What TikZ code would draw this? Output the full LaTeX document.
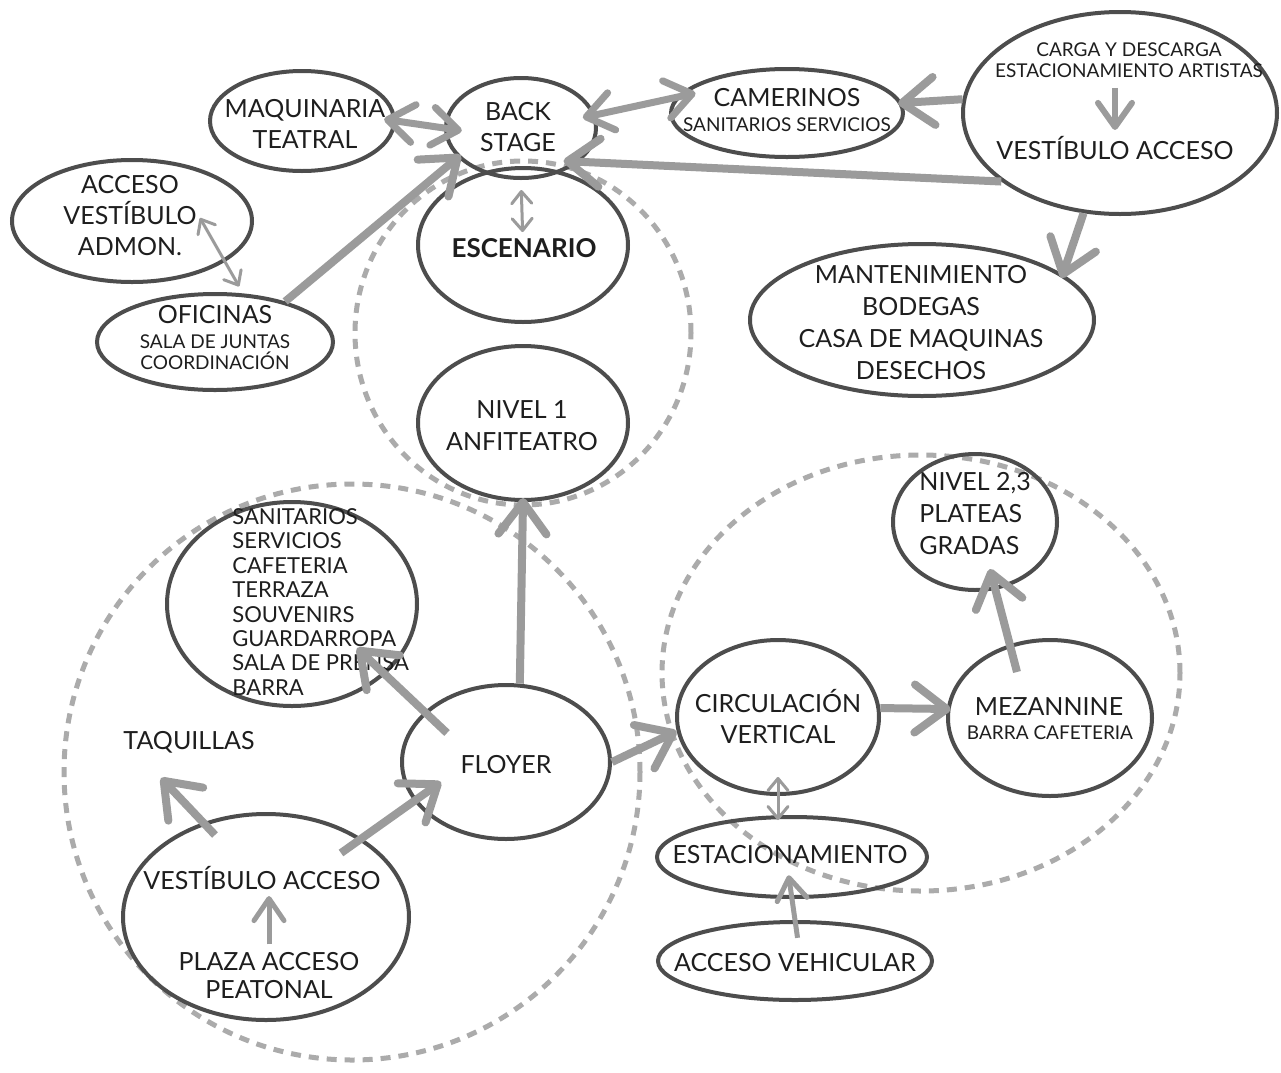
\documentclass[tikz,border=0pt]{standalone}
\usepackage{fontspec}
\setmainfont{Lato}
\usetikzlibrary{arrows.meta,shapes.geometric,calc}

\definecolor{rim}{HTML}{4D4D4D}
\definecolor{ink}{HTML}{1E1E1E}
\definecolor{flow}{HTML}{9B9B9B}
\definecolor{zonegray}{HTML}{ABABAB}

\tikzset{
  room/.style={ellipse, draw=rim, line width=2pt, inner sep=0pt},
  zonering/.style={ellipse, draw=zonegray, line width=2.5pt,
                   dash pattern=on 5pt off 4pt, inner sep=0pt},
  big/.style={text=ink, align=center, inner sep=0pt,
              font=\fontsize{12.5}{15.5}\selectfont},
  small/.style={text=ink, align=center, inner sep=0pt,
                font=\fontsize{9.5}{10.5}\selectfont},
  listing/.style={text=ink, align=left, inner sep=0pt,
                  font=\fontsize{11}{12.2}\selectfont},
  heavy/.style={draw=flow, line width=4pt,
                -{Straight Barb[round,length=16pt,width=24pt]}},
  twoway/.style={draw=flow, line width=3.5pt,
                {Straight Barb[round,length=13pt,width=19pt]}-{Straight Barb[round,length=13pt,width=19pt]}},
  slimtwo/.style={draw=flow, line width=1.5pt,
                {Straight Barb[round,length=6pt,width=10pt]}-{Straight Barb[round,length=6pt,width=10pt]}},
  inner/.style={draw=flow, line width=3pt,
                -{Straight Barb[round,length=12pt,width=17pt]}},
  lift/.style={draw=flow, line width=2.5pt,
                -{Straight Barb[round,length=11pt,width=15pt]}}
}

\begin{document}
\begin{tikzpicture}[x=0.5pt,y=-0.5pt]
\useasboundingbox (0,0) rectangle (1281,1072);
\fill[white] (0,0) rectangle (1281,1072);

% dashed zones
\node[zonering, minimum width=168pt, minimum height=172pt] (zoneA) at (523,333) {};
\node[zonering, minimum width=288pt, minimum height=288pt] (zoneB) at (352,772) {};
\node[zonering, minimum width=259pt, minimum height=218pt] (zoneC) at (921,673) {};

% spaces
\node[room, minimum width=92pt,  minimum height=50pt]  (maq)    at (302,121) {};
\node[room, minimum width=75pt,  minimum height=50pt]  (bs)     at (521,128) {};
\node[room, minimum width=105pt, minimum height=77pt]  (esc)    at (523,245) {};
\node[room, minimum width=116pt, minimum height=44pt]  (cam)    at (787,113) {};
\node[room, minimum width=157pt, minimum height=101pt] (carga)  at (1120,113) {};
\node[room, minimum width=172pt, minimum height=76pt]  (mant)   at (922,320) {};
\node[room, minimum width=120pt, minimum height=61pt]  (acc)    at (132,221) {};
\node[room, minimum width=118pt, minimum height=48pt]  (ofi)    at (215,342) {};
\node[room, minimum width=105pt, minimum height=77pt]  (niv1)   at (523,423) {};
\node[room, minimum width=125pt, minimum height=102pt] (san)    at (292,604) {};
\node[room, minimum width=104pt, minimum height=77pt]  (floyer) at (506,762) {};
\node[room, minimum width=143pt, minimum height=103pt] (vest)   at (266,917) {};
\node[room, minimum width=101pt, minimum height=77pt]  (circ)   at (778,717) {};
\node[room, minimum width=102pt, minimum height=78pt]  (mez)    at (1050,718) {};
\node[room, minimum width=82pt,  minimum height=68pt]  (niv2)   at (975,522) {};
\node[room, minimum width=135pt, minimum height=40pt]  (est)    at (792,857) {};
\node[room, minimum width=137pt, minimum height=39pt]  (veh)    at (795,961) {};

% labels
\node[big] (maqt) at (305,124) {MAQUINARIA\\TEATRAL};
\node[big] (bst) at (518,127) {BACK\\STAGE};
\node[big, font=\fontsize{13}{15.5}\selectfont\bfseries] (esct) at (524,248) {ESCENARIO};
\node[big] (camt) at (787,98) {CAMERINOS};
\node[small] (camsub) at (787,125) {SANITARIOS SERVICIOS};
\node[small] (cargat) at (1129,60) {CARGA Y DESCARGA\\ESTACIONAMIENTO ARTISTAS};
\node[big] (vestr) at (1115,148) {VESTÍBULO ACCESO};
\node[big, font=\fontsize{12.5}{16}\selectfont] (mantt) at (921,323) {MANTENIMIENTO\\BODEGAS\\CASA DE MAQUINAS\\DESECHOS};
\node[big] (acct) at (130,216) {ACCESO\\VESTÍBULO\\ADMON.};
\node[big] (ofit) at (215,315) {OFICINAS};
\node[small] (ofisub) at (215,352) {SALA DE JUNTAS\\COORDINACIÓN};
\node[big, font=\fontsize{12.5}{16}\selectfont] (niv1t) at (522,426) {NIVEL 1\\ANFITEATRO};
\node[listing, anchor=west] (sant) at (232,602) {SANITARIOS\\SERVICIOS\\CAFETERIA\\TERRAZA\\SOUVENIRS\\GUARDARROPA\\SALA DE PRENSA\\BARRA};
\node[big] (floyert) at (506,765) {FLOYER};
\node[big] (taq) at (189,742) {TAQUILLAS};
\node[big] (vestt) at (262,878) {VESTÍBULO ACCESO};
\node[big, font=\fontsize{12.5}{14}\selectfont] (plaza) at (269,976) {PLAZA ACCESO\\PEATONAL};
\node[big] (circt) at (778,717) {CIRCULACIÓN\\VERTICAL};
\node[big] (mezt) at (1049,707) {MEZANNINE};
\node[small] (mezsub) at (1050,733) {BARRA CAFETERIA};
\node[big, align=left, anchor=west, font=\fontsize{12.5}{16}\selectfont] (niv2t) at (919,514) {NIVEL 2,3\\PLATEAS\\GRADAS};
\node[big] (estt) at (790,855) {ESTACIONAMIENTO};
\node[big] (veht) at (795,963) {ACCESO VEHICULAR};

% connections
\draw[twoway, shorten <=-6pt, shorten >=-9pt] (maq.east) -- (bs.west);
\draw[twoway, shorten <=-6.5pt, shorten >=-10pt] (bs.10) -- (cam.172);
\draw[heavy, shorten >=-2pt] (carga.175) -- (cam.5);
\draw[heavy, shorten >=-8pt] (carga.210) -- (bs.-30);
\draw[heavy, shorten >=-2pt] (ofi.30) -- (bs.205);
\draw[slimtwo, shorten <=5pt, shorten >=6.5pt] (bs.south) -- (esc.center);
\draw[slimtwo, shorten >=4pt] ($(acc)+(68,-3)$) -- (ofi.60);
\draw[heavy, shorten >=-2pt] (carga.-110) -- (mant.18);
\draw[inner, shorten <=5pt, shorten >=3pt] (vestr.north |- cargat.south) -- (vestr.north);

\draw[heavy, shorten >=-2pt] (floyer.80) -- (niv1.south);
\draw[heavy] ($(floyer)+(-59,-29)$) -- ($(san)+(65,44)$);
\draw[heavy] ($(vest)+(-51,-82)$) -- ($(taq)+(-28,36)$);
\draw[heavy] ($(vest)+(75,-64)$) -- ($(floyer)+(-65,20)$);
\draw[lift, shorten <=4pt, shorten >=3pt] (plaza.north) -- (plaza.north |- vestt.south);
\draw[heavy] (floyer.east) -- (circ.188);
\draw[heavy, shorten >=-2pt] (circ.5) -- (mez.175);
\draw[heavy] ($(mez)+(-33,-46)$) -- ($(niv2.south)+(15,-23)$);
\draw[slimtwo, shorten <=-9.5pt, shorten >=-2.5pt] (circ.south) -- (circ.south |- est.north);
\draw[lift, shorten <=-9pt, shorten >=-12pt] (veh.north) -- (est.south);
\end{tikzpicture}
\end{document}
